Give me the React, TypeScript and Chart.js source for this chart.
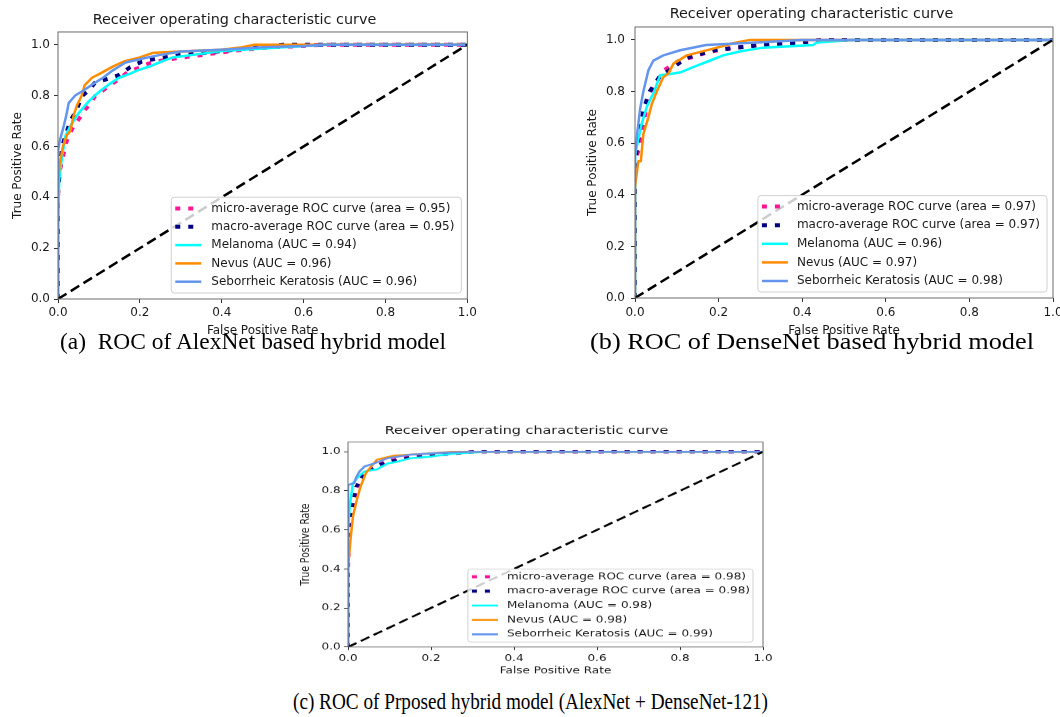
import React, { useEffect, useRef } from "react";
import { Chart, registerables } from "chart.js";

Chart.register(...registerables);

const FONT = '"DejaVu Sans", Verdana, sans-serif';
const SERIF = '"Liberation Serif", "Times New Roman", serif';
const TITLE = "Receiver operating characteristic curve";
const X_LABEL = "False Positive Rate";
const Y_LABEL = "True Positive Rate";
const X_TICKS = [0, 0.2, 0.4, 0.6, 0.8, 1.0];
const Y_TICKS = [0, 0.2, 0.4, 0.6, 0.8, 1.0];
const CHANCE = [[0, 0], [1, 1]];

const CURVE_NAMES = [
  "micro-average ROC curve",
  "macro-average ROC curve",
  "Melanoma",
  "Nevus",
  "Seborrheic Keratosis",
];
const AUC_A = [0.95, 0.95, 0.94, 0.96, 0.96];
const AUC_B = [0.97, 0.97, 0.96, 0.97, 0.98];
const AUC_C = [0.98, 0.98, 0.98, 0.98, 0.99];

// (a) AlexNet based hybrid model
const A_MICRO = [[0, 0], [0, 0.4], [0.004, 0.5], [0.012, 0.56], [0.022, 0.625], [0.035, 0.67], [0.05, 0.705], [0.066, 0.745], [0.08, 0.77], [0.09, 0.797], [0.11, 0.82], [0.123, 0.836], [0.15, 0.865], [0.172, 0.895], [0.2, 0.91], [0.22, 0.925], [0.26, 0.94], [0.33, 0.955], [0.4, 0.97], [0.45, 0.98], [0.52, 0.99], [0.6, 0.995], [0.65, 1.0], [1, 1]];
const A_MACRO = [[0, 0], [0, 0.42], [0.004, 0.5], [0.01, 0.6], [0.02, 0.65], [0.03, 0.7], [0.046, 0.745], [0.058, 0.797], [0.075, 0.82], [0.09, 0.85], [0.12, 0.865], [0.148, 0.88], [0.175, 0.91], [0.205, 0.934], [0.24, 0.945], [0.3, 0.96], [0.4, 0.975], [0.5, 0.99], [0.55, 1.0], [1, 1]];
const A_MEL = [[0, 0], [0, 0.3], [0.003, 0.47], [0.01, 0.56], [0.018, 0.64], [0.03, 0.68], [0.05, 0.73], [0.075, 0.777], [0.09, 0.8], [0.107, 0.823], [0.13, 0.85], [0.148, 0.869], [0.175, 0.885], [0.196, 0.9], [0.225, 0.915], [0.253, 0.934], [0.28, 0.95], [0.33, 0.96], [0.4, 0.975], [0.5, 0.985], [0.6, 0.995], [0.65, 1.0], [1, 1]];
const A_NEV = [[0, 0], [0, 0.45], [0.004, 0.53], [0.012, 0.6], [0.022, 0.645], [0.03, 0.66], [0.038, 0.72], [0.046, 0.76], [0.058, 0.8], [0.065, 0.84], [0.083, 0.87], [0.107, 0.89], [0.135, 0.915], [0.163, 0.935], [0.2, 0.95], [0.23, 0.967], [0.26, 0.97], [0.33, 0.975], [0.4, 0.98], [0.45, 0.99], [0.48, 1.0], [1, 1]];
const A_SEB = [[0, 0], [0, 0.58], [0.004, 0.62], [0.014, 0.68], [0.02, 0.72], [0.026, 0.77], [0.042, 0.8], [0.062, 0.82], [0.09, 0.85], [0.11, 0.87], [0.13, 0.895], [0.165, 0.93], [0.21, 0.947], [0.25, 0.96], [0.3, 0.973], [0.4, 0.98], [0.5, 0.99], [0.6, 0.995], [0.65, 1.0], [1, 1]];

// (b) DenseNet based hybrid model
const B_MICRO = [[0, 0], [0, 0.5], [0.004, 0.55], [0.01, 0.58], [0.02, 0.67], [0.03, 0.76], [0.044, 0.82], [0.068, 0.88], [0.09, 0.905], [0.108, 0.92], [0.14, 0.935], [0.17, 0.95], [0.2, 0.96], [0.235, 0.97], [0.34, 0.985], [0.45, 1.0], [1, 1]];
const B_MACRO = [[0, 0], [0, 0.52], [0.006, 0.6], [0.02, 0.73], [0.035, 0.8], [0.06, 0.86], [0.08, 0.88], [0.122, 0.93], [0.19, 0.96], [0.3, 0.98], [0.4, 0.99], [0.45, 1.0], [1, 1]];
const B_MEL = [[0, 0], [0, 0.55], [0.006, 0.6], [0.016, 0.675], [0.028, 0.74], [0.046, 0.8], [0.06, 0.863], [0.084, 0.868], [0.11, 0.875], [0.148, 0.9], [0.18, 0.92], [0.211, 0.94], [0.25, 0.955], [0.306, 0.97], [0.426, 0.98], [0.435, 0.99], [0.52, 1.0], [1, 1]];
const B_NEV = [[0, 0], [0, 0.43], [0.008, 0.53], [0.014, 0.53], [0.02, 0.635], [0.032, 0.7], [0.04, 0.75], [0.052, 0.8], [0.068, 0.856], [0.08, 0.87], [0.092, 0.908], [0.124, 0.94], [0.187, 0.966], [0.22, 0.98], [0.243, 0.99], [0.275, 1.0], [1, 1]];
const B_SEB = [[0, 0], [0, 0.55], [0.004, 0.62], [0.012, 0.73], [0.02, 0.8], [0.032, 0.882], [0.044, 0.92], [0.068, 0.94], [0.108, 0.96], [0.17, 0.98], [0.29, 0.99], [0.4, 1.0], [1, 1]];

// (c) Proposed hybrid model
const C_MICRO = [[0, 0], [0, 0.4], [0.003, 0.6], [0.008, 0.7], [0.02, 0.8], [0.03, 0.86], [0.045, 0.9], [0.07, 0.93], [0.09, 0.95], [0.12, 0.965], [0.15, 0.98], [0.22, 0.99], [0.3, 1.0], [1, 1]];
const C_MACRO = [[0, 0], [0, 0.5], [0.004, 0.62], [0.01, 0.72], [0.02, 0.82], [0.03, 0.86], [0.045, 0.9], [0.07, 0.93], [0.1, 0.95], [0.15, 0.97], [0.2, 0.98], [0.3, 1.0], [1, 1]];
const C_MEL = [[0, 0], [0, 0.6], [0.004, 0.72], [0.012, 0.84], [0.024, 0.87], [0.04, 0.9], [0.07, 0.91], [0.095, 0.94], [0.12, 0.95], [0.15, 0.967], [0.2, 0.975], [0.25, 0.99], [0.337, 1.0], [1, 1]];
const C_NEV = [[0, 0], [0, 0.4], [0.006, 0.55], [0.012, 0.67], [0.022, 0.76], [0.03, 0.82], [0.043, 0.89], [0.059, 0.933], [0.07, 0.96], [0.11, 0.98], [0.19, 0.99], [0.25, 1.0], [1, 1]];
const C_SEB = [[0, 0], [0, 0.83], [0.015, 0.84], [0.02, 0.87], [0.028, 0.9], [0.04, 0.925], [0.063, 0.94], [0.095, 0.967], [0.15, 0.985], [0.23, 0.995], [0.3, 1.0], [1, 1]];

const CAPTIONS = [
  "(a)  ROC of AlexNet based hybrid model",
  "(b) ROC of DenseNet based hybrid model",
  "(c) ROC of Prposed hybrid model (AlexNet + DenseNet-121)",
];

const STYLES = [
  { color: "#FF1493", width: 4, dash: [5, 8] },
  { color: "#000080", width: 4, dash: [5, 8] },
  { color: "#00FFFF", width: 2.5, dash: [] as number[] },
  { color: "#FF8C00", width: 2.5, dash: [] as number[] },
  { color: "#6495ED", width: 2.5, dash: [] as number[] },
];

const PANELS = [
  {
    left: 0, top: 0, w: 480, h: 340, sy: 1,
    curves: [A_MICRO, A_MACRO, A_MEL, A_NEV, A_SEB], auc: AUC_A,
    padRight: 11, titleTop: 11.4, titleBottom: 3.3, yAxisW: 58, xAxisH: 41,
    yTickPad: 4, xTickPad: 3.1, yTitlePad: 10.3, xTitlePad: 1.8,
    legend: { right: 6, bottom: 6, edge: 11.3, pitch: 18.3, textLeft: 40, padRight: 7 },
  },
  {
    left: 570, top: 0, w: 500, h: 340, sy: 1,
    curves: [B_MICRO, B_MACRO, B_MEL, B_NEV, B_SEB], auc: AUC_B,
    padRight: 17, titleTop: 5.4, titleBottom: 4.3, yAxisW: 65, xAxisH: 42,
    yTickPad: 6, xTickPad: 4.1, yTitlePad: 15.3, xTitlePad: 1.8,
    legend: { right: 6, bottom: 6, edge: 11, pitch: 18.6, textLeft: 39, padRight: 7 },
  },
  {
    left: 290, top: 410, w: 490, h: 351, sy: 0.77,
    curves: [C_MICRO, C_MACRO, C_MEL, C_NEV, C_SEB], auc: AUC_C,
    padRight: 17, titleTop: 18.6, titleBottom: 5.7, yAxisW: 58, xAxisH: 43.2,
    yTickPad: 3.3, xTickPad: 3.5, yTitlePad: 8.8, xTitlePad: 4.8,
    legend: { right: 10, bottom: 6.5, edge: 10, pitch: 18.7, textLeft: 39, padRight: 3 },
  },
];

const CAPTION_POS = [
  { left: 60, cy: 341, width: 386 },
  { left: 590, cy: 341, width: 444 },
  { left: 293, cy: 701, width: 475 },
];

const labelFor = (i: number, auc: number) =>
  i < 2 ? `${CURVE_NAMES[i]} (area = ${auc.toFixed(2)})` : `${CURVE_NAMES[i]} (AUC = ${auc.toFixed(2)})`;

const rocFrame = {
  id: "rocFrame",
  afterDatasetsDraw(chart: any, _args: any, opts: any) {
    const { ctx, chartArea: a } = chart;
    ctx.save();
    ctx.strokeStyle = "#6b6b6b";
    ctx.lineWidth = 1;
    ctx.setLineDash([]);
    ctx.strokeRect(a.left, a.top, a.right - a.left, a.bottom - a.top);

    const L = opts.legend;
    const labels: string[] = opts.labels;
    ctx.font = `12px ${FONT}`;
    const maxW = Math.max(...labels.map((t) => ctx.measureText(t).width));
    const w = L.textLeft + maxW + L.padRight;
    const h = 2 * L.edge + (labels.length - 1) * L.pitch;
    const x0 = a.right - L.right - w;
    const y0 = a.bottom - L.bottom - h;
    ctx.beginPath();
    if (ctx.roundRect) ctx.roundRect(x0, y0, w, h, 3);
    else ctx.rect(x0, y0, w, h);
    ctx.fillStyle = "rgba(255,255,255,0.8)";
    ctx.fill();
    ctx.strokeStyle = "#d0d0d0";
    ctx.lineWidth = 1;
    ctx.stroke();

    labels.forEach((t, i) => {
      const st = STYLES[i];
      const yc = y0 + L.edge + i * L.pitch;
      ctx.beginPath();
      ctx.setLineDash(st.dash);
      ctx.lineDashOffset = 0;
      ctx.lineCap = "butt";
      ctx.strokeStyle = st.color;
      ctx.lineWidth = st.width;
      ctx.moveTo(x0 + 4, yc);
      ctx.lineTo(x0 + 30, yc);
      ctx.stroke();
      ctx.setLineDash([]);
      ctx.fillStyle = "#1a1a1a";
      ctx.textBaseline = "middle";
      ctx.textAlign = "left";
      ctx.fillText(t, x0 + L.textLeft, yc);
    });
    ctx.restore();
  },
};

function RocChart({ p }: { p: any }) {
  const ref = useRef<HTMLCanvasElement>(null);
  useEffect(() => {
    const canvas = ref.current;
    if (!canvas) return;
    const pts = (arr: number[][]) => arr.map(([x, y]) => ({ x, y }));
    const curveSets = p.curves.map((c: number[][], i: number) => ({
      label: labelFor(i, p.auc[i]),
      data: pts(c),
      borderColor: STYLES[i].color,
      borderWidth: STYLES[i].width,
      borderDash: STYLES[i].dash,
      borderCapStyle: "butt",
      borderJoinStyle: "round",
      pointRadius: 0,
      tension: 0,
      fill: false,
    }));
    const datasets = [
      {
        label: "chance",
        data: pts(CHANCE),
        borderColor: "#000000",
        borderWidth: 2.5,
        borderDash: [10, 5],
        pointRadius: 0,
        fill: false,
      },
      ...curveSets.slice().reverse(),
    ];
    const tickFont = { family: FONT, size: 12 };
    const chart = new Chart(canvas, {
      type: "line",
      data: { datasets },
      options: {
        animation: false,
        responsive: false,
        devicePixelRatio: 1,
        events: [],
        layout: { padding: { left: 0, right: p.padRight, top: 0, bottom: 0 } },
        plugins: {
          legend: { display: false },
          tooltip: { enabled: false },
          title: {
            display: true,
            text: TITLE,
            color: "#1a1a1a",
            font: { family: FONT, size: 14.4, weight: "normal" },
            padding: { top: p.titleTop, bottom: p.titleBottom },
          },
          rocFrame: { legend: p.legend, labels: p.auc.map((v: number, i: number) => labelFor(i, v)) },
        } as any,
        scales: {
          x: {
            type: "linear",
            min: 0,
            max: 1,
            afterBuildTicks: (s: any) => {
              s.ticks = X_TICKS.map((v) => ({ value: v }));
            },
            afterFit: (s: any) => {
              s.height = p.xAxisH;
            },
            ticks: {
              callback: (v: any) => Number(v).toFixed(1),
              color: "#1a1a1a",
              font: tickFont,
              padding: p.xTickPad,
              maxRotation: 0,
              autoSkip: false,
            },
            grid: { display: true, drawOnChartArea: false, drawTicks: true, tickLength: 4, tickColor: "#333", tickWidth: 1 },
            border: { display: false },
            title: { display: true, text: X_LABEL, color: "#1a1a1a", font: tickFont, padding: { top: 0, bottom: p.xTitlePad } },
          },
          y: {
            type: "linear",
            min: 0,
            max: 1.05,
            afterBuildTicks: (s: any) => {
              s.ticks = Y_TICKS.map((v) => ({ value: v }));
            },
            afterFit: (s: any) => {
              s.width = p.yAxisW;
            },
            ticks: {
              callback: (v: any) => Number(v).toFixed(1),
              color: "#1a1a1a",
              font: tickFont,
              padding: p.yTickPad,
              autoSkip: false,
            },
            grid: { display: true, drawOnChartArea: false, drawTicks: true, tickLength: 4, tickColor: "#333", tickWidth: 1 },
            border: { display: false },
            title: { display: true, text: Y_LABEL, color: "#1a1a1a", font: tickFont, padding: { top: p.yTitlePad, bottom: 0 } },
          },
        },
      } as any,
      plugins: [rocFrame as any],
    });
    return () => chart.destroy();
  }, [p]);
  return (
    <div style={{ position: "absolute", left: p.left, top: p.top, width: p.w, height: p.h * p.sy, overflow: "visible" }}>
      <div style={{ width: p.w, height: p.h, transform: `scaleY(${p.sy})`, transformOrigin: "0 0" }}>
        <canvas ref={ref} width={p.w} height={p.h} style={{ display: "block" }} />
      </div>
    </div>
  );
}

function Caption({ text, pos }: { text: string; pos: { left: number; cy: number; width: number } }) {
  const ref = useRef<HTMLSpanElement>(null);
  useEffect(() => {
    const el = ref.current;
    if (!el) return;
    el.style.transform = "none";
    const natural = el.getBoundingClientRect().width;
    if (natural > 0) el.style.transform = `scaleX(${pos.width / natural})`;
  }, [pos]);
  return (
    <span
      ref={ref}
      style={{
        position: "absolute",
        left: pos.left,
        top: pos.cy - 14,
        fontFamily: SERIF,
        fontSize: 23.5,
        lineHeight: "28px",
        whiteSpace: "pre",
        color: "#000",
        transformOrigin: "0 50%",
      }}
    >
      {text}
    </span>
  );
}

export default function App() {
  return (
    <div style={{ position: "absolute", left: 0, top: 0, width: 1060, height: 717, overflow: "hidden", background: "#fff" }}>
      {PANELS.map((p, i) => (
        <RocChart key={i} p={p} />
      ))}
      {CAPTIONS.map((t, i) => (
        <Caption key={i} text={t} pos={CAPTION_POS[i]} />
      ))}
    </div>
  );
}
